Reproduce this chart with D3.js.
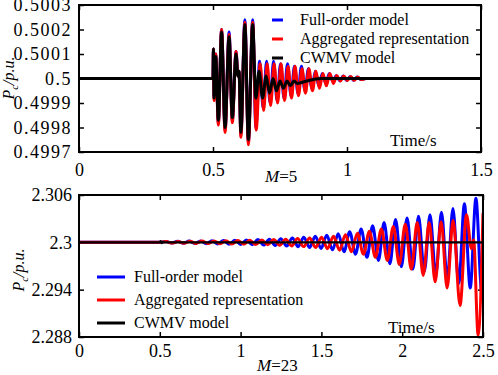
<html>

<head>
    <meta charset="utf-8">
    <script src="https://d3js.org/d3.v7.min.js"></script>
    <style>
        body {
            margin: 0;
            background: #fff;
        }

        .tick line {
            stroke: #000;
            stroke-width: 1.5;
        }
    </style>
</head>

<body>
    <svg id="chart" width="498" height="375" font-family="'Liberation Serif', 'Times New Roman', serif"></svg>
    <script>

        const serif = "'Liberation Serif', 'Times New Roman', serif";

        // top panel (M=5) tick values
        const topXTicks = [0, 0.5, 1, 1.5];
        const topYTicks = [0.4997, 0.4998, 0.4999, 0.5, 0.5001, 0.5002, 0.5003];
        const topYLabels = ["0.4997", "0.4998", "0.4999", "0.5", "0.5001", "0.5002", "0.5003"];

        // bottom panel (M=23) tick values
        const botXTicks = [0, 0.5, 1, 1.5, 2, 2.5];
        const botYTicks = [2.288, 2.294, 2.3, 2.306];
        const botYLabels = ["2.288", "2.294", "2.3", "2.306"];

        const legendNames = ["Full-order model", "Aggregated representation", "CWMV model"];
        const seriesColors = ["#0000ff", "#ff0000", "#000000"];

        // M=5, extrema [time, Pc]
        const topFull = [[0, 0.5], [0.5, 0.5], [0.5015, 0.50012], [0.504, 0.49992], [0.510, 0.50010], [0.520, 0.49982],
        [0.532, 0.50020], [0.545, 0.49979], [0.560, 0.50019], [0.572, 0.49983], [0.586, 0.50011], [0.593, 0.50001],
        [0.597, 0.50003], [0.604, 0.49977], [0.619, 0.50024], [0.632, 0.49974], [0.648, 0.50024], [0.660, 0.49980],
        [0.674, 0.50007], [0.687, 0.49988], [0.700, 0.50007], [0.713, 0.49990], [0.726, 0.50007], [0.739, 0.49991],
        [0.752, 0.50006], [0.765, 0.49992], [0.778, 0.50006], [0.791, 0.49993], [0.804, 0.50005], [0.817, 0.49994],
        [0.830, 0.50005], [0.843, 0.49995], [0.856, 0.50004], [0.869, 0.49996], [0.882, 0.50003], [0.895, 0.49997],
        [0.908, 0.50002], [0.921, 0.49998], [0.934, 0.50002], [0.947, 0.49999], [0.960, 0.500012], [0.973, 0.49999],
        [0.986, 0.50001], [0.999, 0.499992], [1.012, 0.500008], [1.025, 0.499993], [1.038, 0.500006], [1.051, 0.499996],
        [1.070, 0.5], [1.5, 0.5]];

        const topAgg = [[0, 0.5], [0.5, 0.5], [0.5015, 0.50012], [0.504, 0.49991], [0.510, 0.50010], [0.520, 0.49981],
        [0.532, 0.50020], [0.545, 0.49978], [0.560, 0.50018], [0.572, 0.49982], [0.586, 0.50011], [0.593, 0.50001],
        [0.597, 0.50003], [0.604, 0.49976], [0.619, 0.50023], [0.632, 0.49973], [0.648, 0.50023], [0.661, 0.49979],
        [0.676, 0.50006], [0.689, 0.49987], [0.702, 0.50006], [0.715, 0.49989], [0.728, 0.50006], [0.741, 0.49990],
        [0.754, 0.50006], [0.767, 0.49991], [0.780, 0.50005], [0.793, 0.49992], [0.806, 0.50005], [0.819, 0.49993],
        [0.832, 0.50004], [0.845, 0.49994], [0.858, 0.50004], [0.871, 0.49995], [0.884, 0.50003], [0.897, 0.49996],
        [0.910, 0.50002], [0.923, 0.49997], [0.936, 0.50002], [0.949, 0.49998], [0.962, 0.500012], [0.975, 0.49999],
        [0.988, 0.50001], [1.001, 0.499992], [1.014, 0.500008], [1.027, 0.499993], [1.040, 0.500006], [1.053, 0.499996],
        [1.072, 0.5], [1.5, 0.5]];

        const topCwmv = [[0, 0.5], [0.5, 0.5], [0.5015, 0.50012], [0.504, 0.49992], [0.510, 0.50009], [0.520, 0.49983],
        [0.532, 0.50019], [0.545, 0.49980], [0.560, 0.50017], [0.572, 0.49984], [0.586, 0.50010], [0.593, 0.50001],
        [0.597, 0.50003], [0.604, 0.49978], [0.619, 0.50022], [0.632, 0.49975], [0.648, 0.50022], [0.660, 0.49992],
        [0.672, 0.50003], [0.685, 0.49992], [0.698, 0.50001], [0.711, 0.49994], [0.724, 0.50000], [0.737, 0.49995],
        [0.750, 0.49999], [0.763, 0.49996], [0.776, 0.49999], [0.789, 0.49997], [0.802, 0.49999], [0.815, 0.49998],
        [0.850, 0.49999], [0.900, 0.5], [1.5, 0.5]];

        // M=23
        const botFull = [[0, 2.3], [0.5, 2.3], [0.539, 2.30012], [0.575, 2.2999], [0.610, 2.30014], [0.646, 2.29987],
        [0.681, 2.30016], [0.717, 2.29985], [0.752, 2.30018], [0.788, 2.29983], [0.823, 2.3002], [0.859, 2.2998],
        [0.894, 2.30023], [0.930, 2.29977], [0.965, 2.30026], [1.001, 2.29974], [1.036, 2.3003], [1.072, 2.2997],
        [1.107, 2.30035], [1.143, 2.29965], [1.178, 2.3004], [1.214, 2.2996], [1.249, 2.30047], [1.285, 2.29953],
        [1.320, 2.30055], [1.356, 2.29945], [1.391, 2.30064], [1.427, 2.29935], [1.462, 2.30076], [1.498, 2.29922],
        [1.533, 2.3009], [1.569, 2.29905], [1.604, 2.3011], [1.640, 2.2988], [1.675, 2.30135], [1.711, 2.2985],
        [1.746, 2.3017], [1.782, 2.2981], [1.817, 2.3021], [1.853, 2.2977], [1.888, 2.3025], [1.924, 2.2973],
        [1.959, 2.3029], [1.995, 2.2969], [2.030, 2.3031], [2.066, 2.2966], [2.101, 2.3033], [2.137, 2.2963],
        [2.172, 2.3035], [2.208, 2.2959], [2.243, 2.3038], [2.279, 2.2954], [2.314, 2.3043], [2.350, 2.2948],
        [2.385, 2.3049], [2.421, 2.2942], [2.456, 2.3056], [2.492, 2.2938], [2.5, 2.2939]];

        const botAgg = [[0, 2.3], [0.5, 2.3], [0.539, 2.3001], [0.576, 2.2999], [0.613, 2.30012], [0.650, 2.29988],
        [0.687, 2.30014], [0.724, 2.29986], [0.761, 2.30016], [0.798, 2.29984], [0.835, 2.30018], [0.872, 2.29982],
        [0.909, 2.3002], [0.946, 2.2998], [0.983, 2.30022], [1.020, 2.29977], [1.057, 2.30026], [1.094, 2.29973],
        [1.131, 2.3003], [1.168, 2.29968], [1.205, 2.30035], [1.242, 2.29962], [1.279, 2.3004], [1.316, 2.29955],
        [1.353, 2.30048], [1.390, 2.29946], [1.427, 2.30056], [1.464, 2.29935], [1.501, 2.30065], [1.538, 2.2992],
        [1.575, 2.30078], [1.612, 2.299], [1.649, 2.30095], [1.686, 2.2988], [1.723, 2.30115], [1.760, 2.2985],
        [1.797, 2.3014], [1.834, 2.2981], [1.871, 2.3017], [1.908, 2.2977], [1.945, 2.302], [1.982, 2.2972],
        [2.019, 2.3023], [2.056, 2.2966], [2.093, 2.3025], [2.130, 2.2958], [2.167, 2.3025], [2.204, 2.295],
        [2.241, 2.3026], [2.278, 2.2942], [2.315, 2.3028], [2.358, 2.292], [2.398, 2.3035], [2.428, 2.2992],
        [2.442, 2.3003], [2.470, 2.2882], [2.5, 2.3037]];

        const botCwmv = [[0, 2.3], [0.5, 2.3], [0.505, 2.30015], [0.512, 2.29992], [0.520, 2.30005], [0.530, 2.3], [2.5, 2.3]];

        const svg = d3.select("#chart");

        function drawPanel(opts) {
            const x = d3.scaleLinear().domain(opts.xDomain).range([opts.left, opts.right]);
            const y = d3.scaleLinear().domain(opts.yDomain).range([opts.bottom, opts.top]);
            const g = svg.append("g");

            g.append("clipPath").attr("id", opts.id)
                .append("rect")
                .attr("x", opts.left).attr("y", opts.top)
                .attr("width", opts.right - opts.left).attr("height", opts.bottom - opts.top);

            // ticks point inward on all four sides
            const xAxis = g.append("g")
                .attr("transform", "translate(0," + opts.bottom + ")")
                .call(d3.axisBottom(x).tickValues(opts.xTicks).tickSize(-5).tickPadding(opts.xPad).tickFormat(d3.format("")));
            g.append("g")
                .attr("transform", "translate(0," + opts.top + ")")
                .call(d3.axisTop(x).tickValues(opts.xTicks).tickSize(-5).tickFormat(""));
            const yAxis = g.append("g")
                .attr("transform", "translate(" + opts.left + ",0)")
                .call(d3.axisLeft(y).tickValues(opts.yTicks).tickSize(-5).tickPadding(7)
                    .tickFormat((d, i) => opts.yLabels[i]));
            g.append("g")
                .attr("transform", "translate(" + opts.right + ",0)")
                .call(d3.axisRight(y).tickValues(opts.yTicks).tickSize(-5).tickFormat(""));
            g.selectAll(".domain").remove();

            [xAxis, yAxis].forEach(a => a.attr("font-family", serif).attr("font-size", 18));
            yAxis.selectAll("text").attr("letter-spacing", opts.yLetterSpacing);

            const line = d3.line()
                .x(d => x(d[0]))
                .y(d => y(d[1]))
                .curve(d3.curveMonotoneX);

            opts.series.forEach((s, i) => {
                g.append("path")
                    .attr("d", line(s))
                    .attr("clip-path", "url(#" + opts.id + ")")
                    .attr("fill", "none")
                    .attr("stroke", seriesColors[i])
                    .attr("stroke-width", opts.widths[i])
                    .attr("stroke-linejoin", "round");
            });

            g.append("rect")
                .attr("x", opts.left).attr("y", opts.top)
                .attr("width", opts.right - opts.left).attr("height", opts.bottom - opts.top)
                .attr("fill", "none")
                .attr("stroke", "#000")
                .attr("stroke-width", 2);

            // legend
            legendNames.forEach((name, i) => {
                const ly = opts.legY[i];
                g.append("line")
                    .attr("x1", opts.legX[0]).attr("x2", opts.legX[1])
                    .attr("y1", ly).attr("y2", ly)
                    .attr("stroke", seriesColors[i])
                    .attr("stroke-width", 3);
                g.append("text")
                    .attr("x", opts.legX[2])
                    .attr("y", ly + 5)
                    .attr("font-family", serif)
                    .attr("font-size", 16)
                    .text(name);
            });

            g.append("text")
                .attr("x", opts.timeX).attr("y", opts.timeY)
                .attr("font-family", serif)
                .attr("font-size", 17)
                .text("Time/s");

            const ml = g.append("text")
                .attr("x", opts.mX).attr("y", opts.mY)
                .attr("font-family", serif)
                .attr("font-size", 17);
            ml.append("tspan").attr("font-style", "italic").text("M");
            ml.append("tspan").text("=" + opts.mValue);

            const yl = g.append("text")
                .attr("transform", "translate(" + opts.yTitleX + "," + opts.yTitleY + ") rotate(-90)")
                .attr("text-anchor", "middle")
                .attr("font-family", serif)
                .attr("font-size", 16)
                .attr("font-style", "italic");
            yl.append("tspan").text("P");
            yl.append("tspan").attr("font-size", 11).attr("dy", 4).text("c");
            yl.append("tspan").attr("dy", -4).text("/p.u.");
        }

        drawPanel({
            id: "clipTop", left: 79, right: 481, top: 5, bottom: 152,
            xDomain: [0, 1.5], yDomain: [0.4997, 0.5003],
            xTicks: topXTicks, yTicks: topYTicks, yLabels: topYLabels, xPad: 11, yLetterSpacing: 1.5,
            series: [topFull, topAgg, topCwmv], widths: [3, 3, 3],
            legX: [272, 283, 300], legY: [20, 39, 58],
            timeX: 390, timeY: 146, mX: 265, mY: 182, mValue: 5,
            yTitleX: 14, yTitleY: 78
        });

        drawPanel({
            id: "clipBot", left: 79, right: 483, top: 195, bottom: 337,
            xDomain: [0, 2.5], yDomain: [2.288, 2.306],
            xTicks: botXTicks, yTicks: botYTicks, yLabels: botYLabels, xPad: 7, yLetterSpacing: 0,
            series: [botFull, botAgg, botCwmv], widths: [3, 3, 2.4],
            legX: [97, 125, 134], legY: [277, 300, 323],
            timeX: 388, timeY: 333, mX: 257, mY: 371, mValue: 23,
            yTitleX: 24, yTitleY: 270
        });

    </script>
</body>

</html>
